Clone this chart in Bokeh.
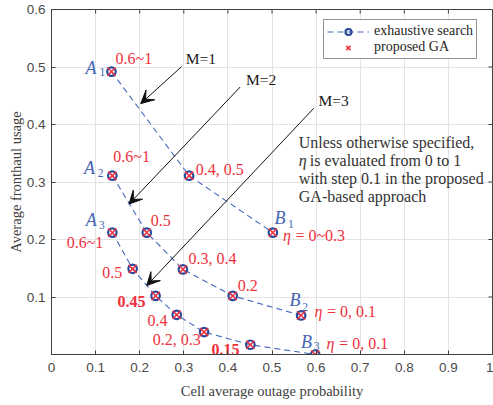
from bokeh.plotting import figure
from bokeh.models import (Range1d, FixedTicker, CustomJSTickFormatter, Legend,
                          LegendItem, Arrow, VeeHead)
from bokeh.core.properties import value
from bokeh.embed import file_html
from bokeh.resources import INLINE

# ---------------- data ----------------
x_ticks = [0.0, 0.1, 0.2, 0.3, 0.4, 0.5, 0.6, 0.7, 0.8, 0.9, 1.0]
y_ticks = [0.1, 0.2, 0.3, 0.4, 0.5, 0.6]

m1_x = [0.136, 0.312, 0.502]
m1_y = [0.492, 0.311, 0.212]

m2_x = [0.138, 0.216, 0.298, 0.411, 0.566]
m2_y = [0.311, 0.212, 0.148, 0.102, 0.068]

m3_x = [0.138, 0.184, 0.236, 0.284, 0.346, 0.451, 0.598]
m3_y = [0.212, 0.149, 0.102, 0.069, 0.039, 0.017, 0.0]

series_names = ["exhaustive search", "proposed GA"]
x_label = "Cell average outage probability"
y_label = "Average fronthaul usage"

# ---------------- style ----------------
SERIF = "Liberation Serif"
SANS = "Liberation Sans"
RED = "#f0303c"
BLUE_TXT = "#4664b4"
LINE_BLUE = "#4468c0"
MARK_BLUE = "#2c4a9c"
AX = "#404040"

p = figure(width=493, height=405, x_range=Range1d(0, 1), y_range=Range1d(0, 0.6),
           output_backend="svg", toolbar_location=None,
           min_border_left=51, min_border_right=1, min_border_top=9, min_border_bottom=51)
p.outline_line_color = AX
p.background_fill_color = "white"

fmt = CustomJSTickFormatter(code="return String(Math.round(tick*10)/10);")
for ax in (p.xaxis[0], p.yaxis[0]):
    ax.axis_line_color = AX
    ax.major_tick_line_color = AX
    ax.major_tick_in = 4
    ax.major_tick_out = 0
    ax.minor_tick_line_color = None
    ax.major_label_text_font = SANS
    ax.major_label_text_font_size = "13.5px"
    ax.major_label_text_color = "#4a4a4a"
    ax.axis_label_text_font = SERIF
    ax.axis_label_text_font_size = "14.5px"
    ax.axis_label_text_font_style = "normal"
    ax.axis_label_text_color = AX
    ax.formatter = fmt
p.xaxis.ticker = FixedTicker(ticks=x_ticks)
p.yaxis.ticker = FixedTicker(ticks=y_ticks)
p.xaxis.axis_label = x_label
p.yaxis.axis_label = y_label
p.xaxis.major_label_standoff = 8
p.xaxis.axis_label_standoff = 8
p.yaxis.major_label_standoff = 6
p.yaxis.axis_label_standoff = 0

p.xgrid.ticker = FixedTicker(ticks=x_ticks)
p.ygrid.ticker = FixedTicker(ticks=y_ticks)
p.grid.grid_line_color = "#e3e3e3"
p.grid.grid_line_width = 1

# inward ticks on the top and right edges of the box
p.segment(x0=x_ticks, y0=[0.6] * len(x_ticks), x1=x_ticks, y1=[0.593] * len(x_ticks),
          line_color=AX, line_width=1)
p.segment(x0=[1.0] * len(y_ticks), y0=y_ticks, x1=[0.9909] * len(y_ticks), y1=y_ticks,
          line_color=AX, line_width=1)

# ---------------- curves ----------------
lines, circs, xs_r = [], [], []
for xs, ys in ((m1_x, m1_y), (m2_x, m2_y), (m3_x, m3_y)):
    l = p.line(xs, ys, line_color=LINE_BLUE, line_dash="6 4", line_width=1.1)
    c = p.scatter(xs, ys, marker="circle", size=8.5, fill_color=None,
                  line_color=MARK_BLUE, line_width=2.2)
    x = p.scatter(xs, ys, marker="x", size=11.5, line_color=RED, line_width=1.5)
    lines.append(l); circs.append(c); xs_r.append(x)

# ---------------- point labels ----------------
def lab(xs, ys, i, text, dx, dy, align="left", size="16px", color=RED,
        style="normal"):
    p.text(x=[xs[i]], y=[ys[i]], text=[text], x_offset=dx, y_offset=dy,
           text_align=align, text_baseline="middle", text_font=value(SERIF),
           text_font_size=size, text_color=color, text_font_style=style)

def name(xs, ys, i, letter, sub, dx, dy, sdx, sdy):
    lab(xs, ys, i, letter, dx, dy, size="18px", color=BLUE_TXT, style="italic")
    lab(xs, ys, i, sub, sdx, sdy, size="11.5px", color=BLUE_TXT)

def eta(xs, ys, i, rest, dx, dy):
    lab(xs, ys, i, "\u03b7", dx, dy, style="italic")
    lab(xs, ys, i, rest, dx + 12.5, dy)

# M = 1
name(m1_x, m1_y, 0, "A", "1", -26, -3.5, -12, 0.5)
lab(m1_x, m1_y, 0, "0.6~1", 4, -13.3)
lab(m1_x, m1_y, 1, "0.4, 0.5", 6.7, -6.3)
name(m1_x, m1_y, 2, "B", "1", 1.6, -14.2, 15, -8.7)
eta(m1_x, m1_y, 2, "= 0~0.3", 10, 3.3)

# M = 2
name(m2_x, m2_y, 0, "A", "2", -28.4, -7.2, -14.5, -3)
lab(m2_x, m2_y, 0, "0.6~1", 1, -19)
lab(m2_x, m2_y, 1, "0.5", 4, -12)
lab(m2_x, m2_y, 2, "0.3, 0.4", 5.7, -11.2)
lab(m2_x, m2_y, 3, "0.2", 5, -10)
name(m2_x, m2_y, 4, "B", "2", -11.7, -15, 1.2, -8.7)
eta(m2_x, m2_y, 4, "= 0, 0.1", 13.3, -3.7)

# M = 3
name(m3_x, m3_y, 0, "A", "3", -26.7, -12.5, -13.4, -8)
lab(m3_x, m3_y, 0, "0.6~1", -9, 10.3, align="right")
lab(m3_x, m3_y, 1, "0.5", -10.3, 3.4, align="right")
lab(m3_x, m3_y, 2, "0.45", -10, 6, align="right", style="bold")
lab(m3_x, m3_y, 3, "0.4", -9.3, 5.2, align="right")
lab(m3_x, m3_y, 4, "0.2, 0.3", -3.3, 7.9, align="right")
lab(m3_x, m3_y, 5, "0.15", -11, 4.7, align="right", style="bold")
name(m3_x, m3_y, 6, "B", "3", -14.3, -12.5, -1.5, -8.9)
eta(m3_x, m3_y, 6, "= 0, 0.1", 11.4, -10.9)

# ---------------- arrows & notes ----------------
def txt(x, y, t, size="16px", style="normal", color="#1a1a1a", dx=0):
    p.text(x=[x], y=[y], text=[t], x_offset=dx, text_align="left", text_baseline="middle",
           text_font=value(SERIF), text_font_size=size, text_color=color,
           text_font_style=style)

for (xs_, ys_, xe, ye), mt, (tx, ty) in (
        ((0.2948, 0.5005, 0.2023, 0.4363), "M=1", (0.3045, 0.5148)),
        ((0.4280, 0.4653, 0.1757, 0.2616), "M=2", (0.4409, 0.4786)),
        ((0.5948, 0.4283, 0.2159, 0.1198), "M=3", (0.6052, 0.4410))):
    p.add_layout(Arrow(end=VeeHead(size=13, fill_color="#111111", line_color="#111111",
                                   line_width=1),
                       x_start=xs_, y_start=ys_, x_end=xe, y_end=ye,
                       line_color="#111111", line_width=1))
    txt(tx, ty, mt, size="15.5px")

nx = 0.5607
NOTE = "#333333"
txt(nx, 0.3686, "Unless otherwise specified,", color=NOTE)
txt(nx, 0.3380, "\u03b7", color=NOTE, style="italic")
txt(nx, 0.3380, "is evaluated from 0 to 1", color=NOTE, dx=11)
txt(nx, 0.3068, "with step 0.1 in the proposed", color=NOTE)
txt(nx, 0.2748, "GA-based approach", color=NOTE)

# ---------------- legend ----------------
legend = Legend(items=[LegendItem(label=series_names[0], renderers=[lines[0], circs[0]]),
                       LegendItem(label=series_names[1], renderers=[xs_r[0]])],
                location=(272, 295), border_line_color="#262626", border_line_width=1,
                background_fill_color="white", background_fill_alpha=1,
                padding=3, spacing=0, margin=0,
                glyph_width=42, glyph_height=15, label_height=15, label_standoff=5)
legend.label_text_font = SERIF
legend.label_text_font_size = "14px"
legend.label_text_color = "#262626"
p.add_layout(legend)

open("out.html", "w").write(file_html(p, INLINE))
